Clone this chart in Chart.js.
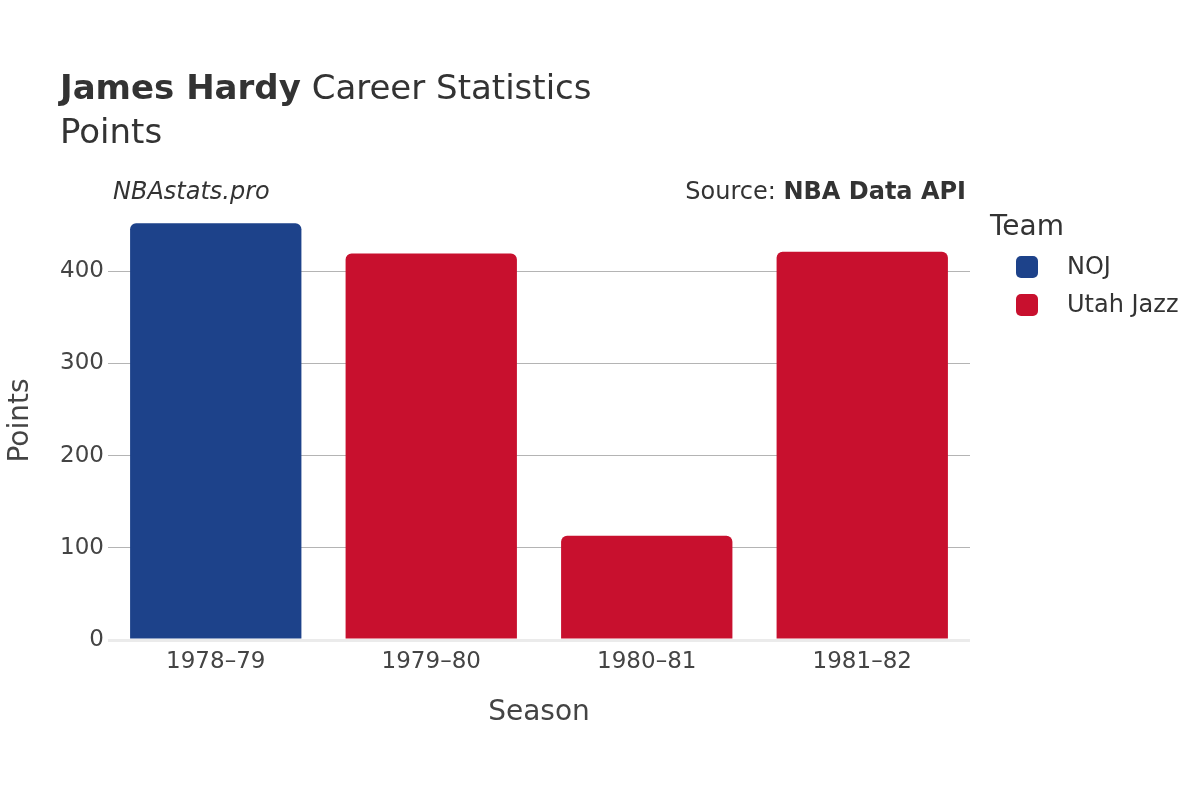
<!DOCTYPE html>
<html>
<head>
<meta charset="utf-8">
<script src="https://cdn.jsdelivr.net/npm/chart.js@4/dist/chart.umd.min.js"></script>
<style>
  body { margin: 0; background: #fff; font-family: "DejaVu Sans", sans-serif; color: #333; }
  #wrap { position: relative; width: 1200px; height: 800px; }
  canvas { position: absolute; left: 0; top: 0; }
  .txt { position: absolute; white-space: nowrap; color: #333; }
  .sw { display: inline-block; width: 22px; height: 22px; border-radius: 5px; vertical-align: middle; }
</style>
</head>
<body>
<div id="wrap">
  <canvas id="chart" width="1200" height="800"></canvas>
  <div class="txt" style="left:60px; top:67px; font-size:34px;"><b>James Hardy</b> Career Statistics</div>
  <div class="txt" style="left:60px; top:111px; font-size:34px;">Points</div>
  <div class="txt" style="left:113px; top:177px; font-size:24px; font-style:italic;">NBAstats.pro</div>
  <div class="txt" style="right:234px; top:177px; font-size:24px;">Source: <b>NBA Data API</b></div>
  <div class="txt" style="left:990px; top:209px; font-size:28px;">Team</div>
  <div class="txt" style="left:1016px; top:252px; font-size:24px;"><span class="sw" style="background:#1d428a"></span><span style="margin-left:29px">NOJ</span></div>
  <div class="txt" style="left:1016px; top:290px; font-size:24px;"><span class="sw" style="background:#c8102e"></span><span style="margin-left:29px">Utah Jazz</span></div>
  <div class="txt" style="left:539px; top:694px; font-size:28px; color:#444; transform:translateX(-50%);">Season</div>
</div>
<script>
const seasons = ['1978–79', '1979–80', '1980–81', '1981–82'];
const nojPoints = [452, null, null, null];
const jazzPoints = [null, 419, 113, 421];
const yTicks = [0, 100, 200, 300, 400];

new Chart(document.getElementById('chart'), {
  type: 'bar',
  data: {
    labels: seasons,
    datasets: [
      { label: 'NOJ', data: nojPoints, backgroundColor: '#1d428a', borderRadius: 6, borderSkipped: 'bottom' },
      { label: 'Utah Jazz', data: jazzPoints, backgroundColor: '#c8102e', borderRadius: 6, borderSkipped: 'bottom' }
    ]
  },
  options: {
    responsive: false,
    animation: false,
    layout: { padding: { left: 0, right: 230, top: 201, bottom: 0 } },
    plugins: { legend: { display: false }, tooltip: { enabled: false } },
    datasets: { bar: { categoryPercentage: 0.795, barPercentage: 1 } },
    scales: {
      x: {
        stacked: true,
        grid: { display: false },
        border: { display: false },
        ticks: { color: '#444', font: { family: 'DejaVu Sans', size: 23 }, padding: 0 },
        afterFit: s => { s.height = 160; }
      },
      y: {
        stacked: true,
        min: 0,
        max: 476,
        afterBuildTicks: s => { s.ticks = yTicks.map(v => ({ value: v })); },
        grid: {
          color: c => c.tick && c.tick.value === 0 ? '#ebebeb' : '#b4b4b4',
          lineWidth: c => c.tick && c.tick.value === 0 ? 3 : 1,
          drawTicks: false
        },
        border: { display: false },
        ticks: { color: '#444', font: { family: 'DejaVu Sans', size: 23 }, padding: 4 },
        title: { display: true, text: 'Points', color: '#444', font: { family: 'DejaVu Sans', size: 28 }, padding: { bottom: 18 } },
        afterFit: s => { s.width = 108; }
      }
    }
  }
});
</script>
</body>
</html>
